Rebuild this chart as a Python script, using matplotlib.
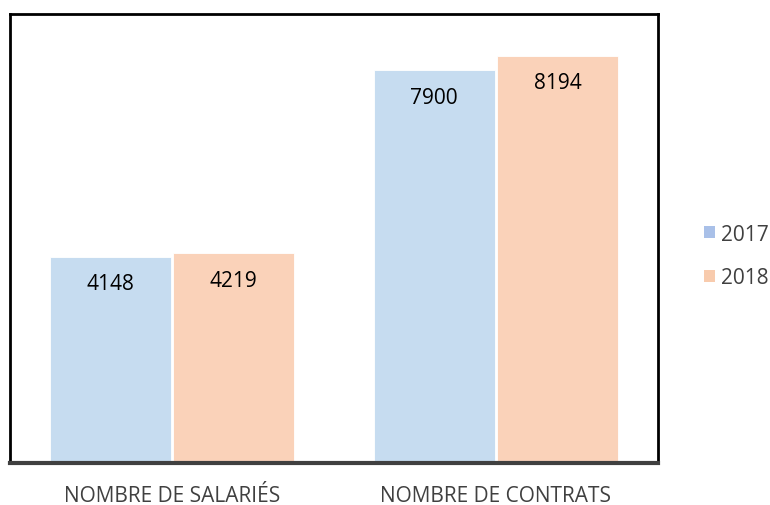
import matplotlib.pyplot as plt
import numpy as np
from matplotlib.patches import Patch

categories = ['NOMBRE DE SALARIÉS', 'NOMBRE DE CONTRATS']
years = ['2017', '2018']
values_2017 = [4148, 7900]
values_2018 = [4219, 8194]

bar_colors = ['#C6DCF0', '#FAD2B9']
legend_colors = ['#A9C0E8', '#F8CBAD']

plt.rcParams['font.family'] = ['Open Sans', 'DejaVu Sans']

fig = plt.figure(figsize=(7.7, 5.06), dpi=100)
ax = fig.add_axes([10/770, (506-464)/506, 648/770, (464-15)/506])

x = np.arange(len(categories))
w = 0.375
b1 = ax.bar(x - w/2 - 0.003, values_2017, w, color=bar_colors[0], edgecolor='white', linewidth=0.6)
b2 = ax.bar(x + w/2 + 0.003, values_2018, w, color=bar_colors[1], edgecolor='white', linewidth=0.6)

for bars in (b1, b2):
    for r in bars:
        ax.text(r.get_x() + r.get_width()/2, r.get_height() - 540, f'{int(r.get_height())}',
                ha='center', va='center', fontsize=15, color='black')

ax.set_xlim(-0.5, 1.5)
ax.set_ylim(0, 9030)
ax.set_yticks([])
ax.set_xticks([])
for s in ['top', 'left', 'right']:
    ax.spines[s].set_linewidth(2)
    ax.spines[s].set_color('black')
ax.spines['bottom'].set_linewidth(3)
ax.spines['bottom'].set_color('#404040')

for xi, lab in zip(x, categories):
    fig.text((10 + 324*(xi + 0.5))/770, 1 - 497/506, lab, ha='center', va='center',
             fontsize=15, color='#404040')

handles = [Patch(facecolor=c, edgecolor='none') for c in legend_colors]
fig.legend(handles, years, loc='center left', bbox_to_anchor=(694/770, 1 - 257/506),
           frameon=False, fontsize=15, handlelength=0.5, handleheight=0.5,
           handletextpad=0.3, labelspacing=1.1, labelcolor='#404040', borderpad=0)

fig.savefig('out.png', dpi=100)
